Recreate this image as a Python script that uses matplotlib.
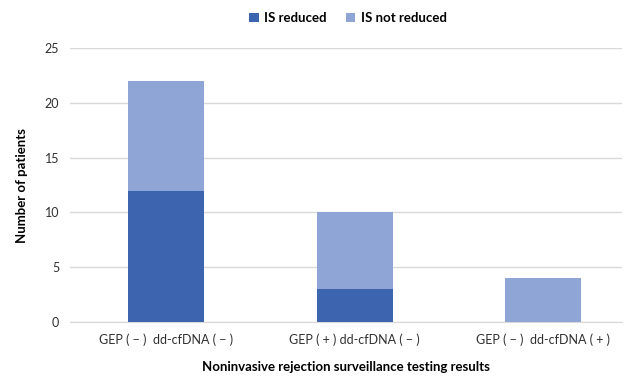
import matplotlib
matplotlib.use("Agg")
import matplotlib.pyplot as plt
import numpy as np

plt.rcParams['font.family'] = ['Lato', 'DejaVu Sans']

categories = ["GEP ( \u2212 )  dd-cfDNA ( \u2212 )",
              "GEP ( + ) dd-cfDNA ( \u2212 )",
              "GEP ( \u2212 )  dd-cfDNA ( + )"]
is_reduced = [12, 3, 0]
is_not_reduced = [10, 7, 4]
yticks = [0, 5, 10, 15, 20, 25]

dark = "#3D64AE"
light = "#8FA5D6"

fig = plt.figure(figsize=(6.27, 3.76), dpi=100)
ax = fig.add_axes([0.112, 0.1436, 0.88, 0.7284])

x = np.arange(len(categories))
w = 0.403
ax.bar(x, is_reduced, w, color=dark, label="IS reduced", zorder=3)
ax.bar(x, is_not_reduced, w, bottom=is_reduced, color=light, label="IS not reduced", zorder=3)

ax.set_ylim(0, 25)
ax.set_xlim(-0.509, 2.419)
ax.set_yticks(yticks)
ax.yaxis.grid(True, color="#D9D9D9", linewidth=1, zorder=0)
ax.set_axisbelow(True)
for s in ["top", "right", "left"]:
    ax.spines[s].set_visible(False)
ax.spines["bottom"].set_color("#D9D9D9")
ax.tick_params(axis="both", length=0, labelsize=9, colors="#303030", pad=8)
ax.set_xticks(x)
ax.set_xticklabels(categories)

ax.set_ylabel("Number of patients", fontsize=9.5, fontweight="bold", labelpad=12)
ax.set_xlabel("Noninvasive rejection surveillance testing results", fontsize=9.5,
              fontweight="bold", labelpad=11)

fig.legend(loc="upper center", bbox_to_anchor=(0.555, 1.0), ncol=2, frameon=False,
           handlelength=0.7, handleheight=0.7, columnspacing=1.5,
           handletextpad=0.4, prop={"weight": "bold", "size": 9.5})

fig.savefig("out.png", dpi=100)
